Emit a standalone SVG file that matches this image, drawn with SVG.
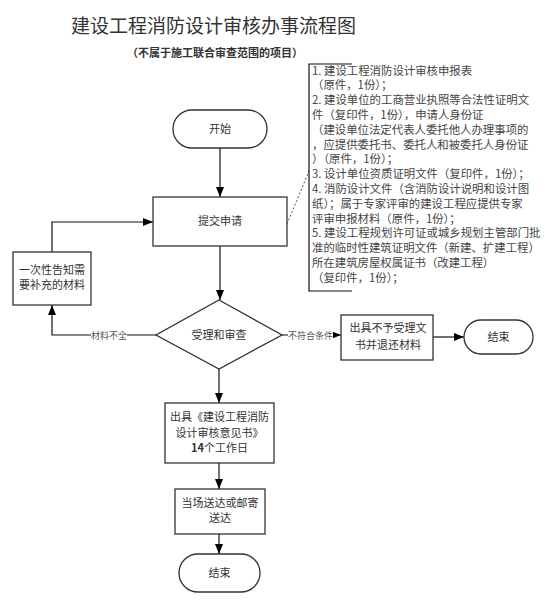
<svg xmlns="http://www.w3.org/2000/svg" width="547" height="612" viewBox="0 0 547 612">
<defs>
<marker id="ah" markerWidth="10" markerHeight="8" refX="10" refY="4" orient="auto" markerUnits="userSpaceOnUse"><path d="M0,0 L10,4 L0,8 z" fill="#000"/></marker>
<style>
.t{font-family:"Noto Sans CJK SC","Noto Sans",sans-serif;fill:#333;}
.n{font-size:11px;text-anchor:middle;}
.box{fill:#fff;stroke:#333;stroke-width:1.3;}
.ln{fill:none;stroke:#111;stroke-width:1.2;}
.lbl{font-size:9px;text-anchor:middle;fill:#555;}
.doc{font-size:11.4px;fill:#444;}
</style>
</defs>
<rect width="547" height="612" fill="#fff"/>
<g id="title">
<text class="t" x="213.5" y="33" font-size="19" text-anchor="middle" fill="#222">建设工程消防设计审核办事流程图</text>
<text class="t" x="215" y="57" font-size="11" font-weight="bold" text-anchor="middle" fill="#222">（不属于施工联合审查范围的项目）</text>
</g>
<g id="connectors">
<line class="ln" x1="220" y1="148" x2="220" y2="197" marker-end="url(#ah)"/>
<line class="ln" x1="220" y1="246" x2="220" y2="300" marker-end="url(#ah)"/>
<polyline class="ln" points="52,252 52,222 153,222" marker-end="url(#ah)"/>
<polyline class="ln" points="156,335 52,335 52,305" marker-end="url(#ah)" stroke="#555"/>
<line class="ln" x1="282" y1="335" x2="341" y2="335" marker-end="url(#ah)"/>
<line class="ln" x1="433" y1="337" x2="464" y2="337" marker-end="url(#ah)"/>
<line class="ln" x1="219" y1="369" x2="219" y2="403" marker-end="url(#ah)"/>
<line class="ln" x1="219" y1="463" x2="219" y2="489" marker-end="url(#ah)"/>
<line class="ln" x1="219" y1="534" x2="219" y2="554" marker-end="url(#ah)"/>
<line x1="287" y1="224" x2="309" y2="171" stroke="#555" stroke-width="1" stroke-dasharray="2,2"/>
<rect x="91" y="329" width="36" height="12" fill="#fff"/>
<text class="t lbl" x="109" y="338.5">材料不全</text>
<rect x="288" y="329" width="45" height="12" fill="#fff"/>
<text class="t lbl" x="310.5" y="338.5">不符合条件</text>
</g>
<g id="start">
<rect class="box" x="173" y="110" width="94" height="38" rx="19"/>
<text class="t n" x="220" y="133">开始</text>
</g>
<g id="submit">
<rect class="box" x="153" y="197" width="134" height="49"/>
<text class="t n" x="220" y="225">提交申请</text>
</g>
<g id="notify">
<rect class="box" x="13" y="252" width="78" height="53"/>
<text class="t n" x="52" y="274">一次性告知需</text>
<text class="t n" x="52" y="289">要补充的材料</text>
</g>
<g id="review">
<polygon class="box" points="219,300 282,335 219,369 156,335"/>
<text class="t n" x="219" y="339">受理和审查</text>
</g>
<g id="reject">
<rect class="box" x="341" y="315" width="92" height="45"/>
<text class="t n" x="388" y="332">出具不予受理文</text>
<text class="t n" x="388" y="349">书并退还材料</text>
</g>
<g id="end1">
<rect class="box" x="464" y="320" width="69" height="34" rx="17"/>
<text class="t n" x="498.5" y="341">结束</text>
</g>
<g id="opinion">
<rect class="box" x="165" y="403" width="109" height="60"/>
<text class="t n" x="219.5" y="421">出具《建设工程消防</text>
<text class="t n" x="219.5" y="436.5">设计审核意见书》</text>
<text class="t n" x="219.5" y="452"><tspan font-weight="bold">14</tspan>个工作日</text>
</g>
<g id="deliver">
<rect class="box" x="175" y="489" width="90" height="45"/>
<text class="t n" x="220" y="507">当场送达或邮寄</text>
<text class="t n" x="220" y="522">送达</text>
</g>
<g id="end2">
<rect class="box" x="179" y="554" width="81" height="38" rx="19"/>
<text class="t n" x="219.5" y="577">结束</text>
</g>
<g id="materials">
<polyline points="352,64 309,64 309,291 352,291" fill="none" stroke="#111" stroke-width="1.2"/>
<text class="t doc" x="312" y="74.5">1. 建设工程消防设计审核申报表</text>
<text class="t doc" x="312" y="89.3">（原件，1份）；</text>
<text class="t doc" x="312" y="104.1">2. 建设单位的工商营业执照等合法性证明文</text>
<text class="t doc" x="312" y="118.9">件（复印件，1份），申请人身份证</text>
<text class="t doc" x="312" y="133.7">（建设单位法定代表人委托他人办理事项的</text>
<text class="t doc" x="312" y="148.5">，应提供委托书、委托人和被委托人身份证</text>
<text class="t doc" x="312" y="163.3">）（原件，1份）；</text>
<text class="t doc" x="312" y="178.1">3. 设计单位资质证明文件（复印件，1份）；</text>
<text class="t doc" x="312" y="192.9">4. 消防设计文件（含消防设计说明和设计图</text>
<text class="t doc" x="312" y="207.7">纸）；属于专家评审的建设工程应提供专家</text>
<text class="t doc" x="312" y="222.5">评审申报材料（原件，1份）；</text>
<text class="t doc" x="312" y="237.3">5. 建设工程规划许可证或城乡规划主管部门批</text>
<text class="t doc" x="312" y="252.1">准的临时性建筑证明文件（新建、扩建工程）</text>
<text class="t doc" x="312" y="266.9">所在建筑房屋权属证书（改建工程）</text>
<text class="t doc" x="312" y="281.7">（复印件，1份）；</text>
</g>
</svg>
